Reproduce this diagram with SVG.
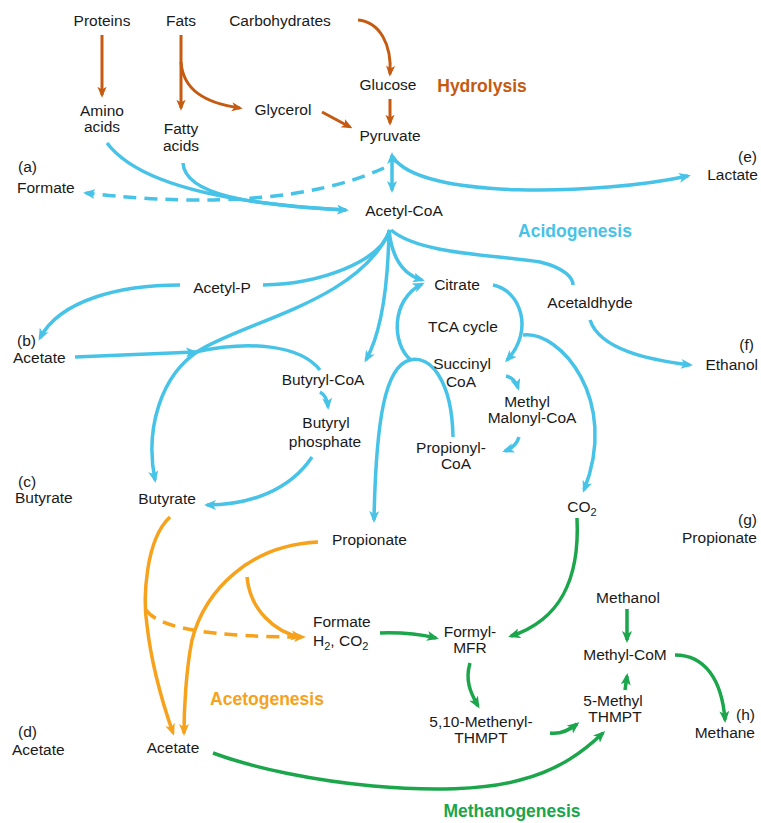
<svg xmlns="http://www.w3.org/2000/svg" width="761" height="823" viewBox="0 0 761 823">
<defs>
<style>
text{font-family:"Liberation Sans",Arial,sans-serif;font-size:15.5px;fill:#1a1a1a;text-anchor:middle}
.s{text-anchor:start}
.e{text-anchor:end}
.h{font-weight:bold;font-size:17.5px}
.c{fill:none;stroke-width:3.5;stroke-linecap:butt}
.br{stroke:#c55a11;stroke-width:3}
.cy{stroke:#47c3e8}
.or{stroke:#f6a21c}
.gr{stroke:#1ba64b}
.d{stroke-dasharray:13 8}
</style>
<marker id="mb" viewBox="0 0 12 10" refX="9" refY="5" markerWidth="11" markerHeight="10" markerUnits="userSpaceOnUse" orient="auto-start-reverse"><path d="M0,0 L12,5 L0,10 L3,5 z" fill="#c55a11"/></marker>
<marker id="mc" viewBox="0 0 12 10" refX="9" refY="5" markerWidth="12" markerHeight="10" markerUnits="userSpaceOnUse" orient="auto-start-reverse"><path d="M0,0 L12,5 L0,10 L3,5 z" fill="#47c3e8"/></marker>
<marker id="mo" viewBox="0 0 12 10" refX="9" refY="5" markerWidth="12" markerHeight="10" markerUnits="userSpaceOnUse" orient="auto-start-reverse"><path d="M0,0 L12,5 L0,10 L3,5 z" fill="#f6a21c"/></marker>
<marker id="mg" viewBox="0 0 12 10" refX="9" refY="5" markerWidth="12" markerHeight="10" markerUnits="userSpaceOnUse" orient="auto-start-reverse"><path d="M0,0 L12,5 L0,10 L3,5 z" fill="#1ba64b"/></marker>
</defs>
<rect width="761" height="823" fill="#ffffff"/>

<g id="connectors">
<g class="hydrolysis">
<path class="c br" d="M102,35 L102,95" marker-end="url(#mb)"/>
<path class="c br" d="M181,35 L181,108" marker-end="url(#mb)"/>
<path class="c br" d="M181,62 C183,90 205,103 240,108" marker-end="url(#mb)"/>
<path class="c br" d="M322,112 L350,127" marker-end="url(#mb)"/>
<path class="c br" d="M358,20 C380,22 392,45 390,74" marker-end="url(#mb)"/>
<path class="c br" d="M390,99 L390,123" marker-end="url(#mb)"/>
</g>
<g class="acidogenesis">
<path class="c cy d" d="M384,168 Q280,215 86,193" marker-end="url(#mc)"/>
<path class="c cy" d="M392,155 L392,190" marker-start="url(#mc)" marker-end="url(#mc)"/>
<path class="c cy" d="M393,157 C420,200 600,195 688,176" marker-end="url(#mc)"/>
<path class="c cy" d="M107,143 Q150,200 346,210" marker-end="url(#mc)"/>
<path class="c cy" d="M183,163 C185,195 250,205 346,210"/>
<path class="c cy" d="M390,230 C380,262 320,284 263,285"/>
<path class="c cy" d="M180,285 C120,285 60,300 40,338" marker-end="url(#mc)"/>
<path class="c cy" d="M390,230 C360,300 250,320 200,350 C160,375 145,430 155,480" marker-end="url(#mc)"/>
<path class="c cy" d="M389,230 C388,290 380,335 366,360" marker-end="url(#mc)"/>
<path class="c cy" d="M389,230 C392,260 405,275 422,280" marker-end="url(#mc)"/>
<path class="c cy" d="M391,230 C420,255 500,255 540,262 C565,268 573,278 573,285"/>
<path class="c cy" d="M75,357 L195,352" marker-end="url(#mc)"/>
<path class="c cy" d="M195,352 C250,340 300,345 320,370"/>
<path class="c cy" d="M493,285 C520,290 535,330 507,360" marker-end="url(#mc)"/>
<path class="c cy" d="M411,360 C392,345 390,300 422,284" marker-end="url(#mc)"/>
<path class="c cy" d="M523,335 C560,330 620,400 584,490" marker-end="url(#mc)"/>
<path class="c cy" d="M453,437 C452,380 430,355 410,360 C385,366 376,420 374,520" marker-end="url(#mc)"/>
<path class="c cy" d="M506,376 Q515,378 518,388" marker-end="url(#mc)"/>
<path class="c cy" d="M519,437 Q516,447 505,451" marker-end="url(#mc)"/>
<path class="c cy" d="M320,392 Q327,396 328,407" marker-end="url(#mc)"/>
<path class="c cy" d="M312,457 C290,490 250,505 207,505" marker-end="url(#mc)"/>
<path class="c cy" d="M590,320 C600,350 650,360 690,365" marker-end="url(#mc)"/>
</g>
<g class="acetogenesis">
<path class="c or" d="M170,517 C145,540 143,600 147,625 C152,670 165,710 173,733" marker-end="url(#mo)"/>
<path class="c or d" d="M146,610 C160,630 220,637 303,637" marker-end="url(#mo)"/>
<path class="c or" d="M318,542 C250,545 205,590 192,640 C186,670 184,710 184,733" marker-end="url(#mo)"/>
<path class="c or" d="M247,577 C250,610 275,632 300,637" marker-end="url(#mo)"/>
</g>
<g class="methanogenesis">
<path class="c gr" d="M213,753 C300,785 450,800 520,780 C560,770 585,750 603,733" marker-end="url(#mg)"/>
<path class="c gr" d="M577,518 C580,580 560,620 511,636" marker-end="url(#mg)"/>
<path class="c gr" d="M380,633 Q410,632 436,638" marker-end="url(#mg)"/>
<path class="c gr" d="M470,663 C465,680 470,692 478,706" marker-end="url(#mg)"/>
<path class="c gr" d="M550,733 Q563,735 577,724" marker-end="url(#mg)"/>
<path class="c gr" d="M625,690 L627,676" marker-end="url(#mg)"/>
<path class="c gr" d="M627,609 L627,640" marker-end="url(#mg)"/>
<path class="c gr" d="M675,655 C705,655 722,680 725,720" marker-end="url(#mg)"/>
</g>
</g>

<g id="proteins"><text x="102" y="26">Proteins</text></g>
<g id="fats"><text x="181" y="26">Fats</text></g>
<g id="carbohydrates"><text x="280" y="26">Carbohydrates</text></g>
<g id="amino-acids"><text x="102" y="116">Amino</text><text x="102" y="132">acids</text></g>
<g id="fatty-acids"><text x="181" y="134">Fatty</text><text x="181" y="151">acids</text></g>
<g id="glycerol"><text x="283" y="115">Glycerol</text></g>
<g id="glucose"><text x="388" y="90">Glucose</text></g>
<g id="pyruvate"><text x="390" y="141">Pyruvate</text></g>
<g id="label-hydrolysis"><text class="h" x="482" y="92" style="fill:#c55a11">Hydrolysis</text></g>
<g id="formate-a"><text class="s" x="18" y="172">(a)</text><text class="s" x="17" y="193">Formate</text></g>
<g id="lactate-e"><text class="e" x="757" y="162">(e)</text><text class="e" x="758" y="180">Lactate</text></g>
<g id="acetyl-coa"><text x="404" y="216">Acetyl-CoA</text></g>
<g id="label-acidogenesis"><text class="h" x="575" y="237" style="fill:#47c3e8">Acidogenesis</text></g>
<g id="acetyl-p"><text x="222" y="293">Acetyl-P</text></g>
<g id="acetate-b"><text class="s" x="17" y="346">(b)</text><text class="s" x="13" y="363">Acetate</text></g>
<g id="citrate"><text x="457" y="290">Citrate</text></g>
<g id="acetaldhyde"><text x="590" y="308">Acetaldhyde</text></g>
<g id="tca-cycle"><text x="463" y="332">TCA cycle</text></g>
<g id="ethanol-f"><text class="e" x="754" y="350">(f)</text><text class="e" x="758" y="370">Ethanol</text></g>
<g id="butyryl-coa"><text x="323" y="385">Butyryl-CoA</text></g>
<g id="succinyl-coa"><text x="462" y="369">Succinyl</text><text x="461" y="387">CoA</text></g>
<g id="methyl-malonyl-coa"><text x="527" y="407">Methyl</text><text x="532" y="423">Malonyl-CoA</text></g>
<g id="butyryl-phosphate"><text x="326" y="428">Butyryl</text><text x="325" y="447">phosphate</text></g>
<g id="propionyl-coa"><text x="451" y="453">Propionyl-</text><text x="456" y="469">CoA</text></g>
<g id="butyrate-c"><text class="s" x="18" y="487">(c)</text><text class="s" x="15" y="503">Butyrate</text></g>
<g id="butyrate"><text x="167" y="504">Butyrate</text></g>
<g id="co2"><text x="582" y="512">CO<tspan dy="4" font-size="11">2</tspan></text></g>
<g id="propionate-g"><text class="e" x="757" y="525">(g)</text><text class="e" x="757" y="543">Propionate</text></g>
<g id="propionate"><text class="s" x="332" y="545">Propionate</text></g>
<g id="methanol"><text x="628" y="603">Methanol</text></g>
<g id="formate-h2-co2"><text class="s" x="313" y="627">Formate</text><text class="s" x="313" y="646">H<tspan dy="4" font-size="11">2</tspan><tspan dy="-4">, CO</tspan><tspan dy="4" font-size="11">2</tspan></text></g>
<g id="formyl-mfr"><text x="470" y="637">Formyl-</text><text x="470" y="653">MFR</text></g>
<g id="methyl-com"><text x="625" y="660">Methyl-CoM</text></g>
<g id="label-acetogenesis"><text class="h" x="267" y="705" style="fill:#f6a21c">Acetogenesis</text></g>
<g id="five-methyl-thmpt"><text x="613" y="706">5-Methyl</text><text x="615" y="722">THMPT</text></g>
<g id="methenyl-thmpt"><text x="481" y="727">5,10-Methenyl-</text><text x="481" y="743">THMPT</text></g>
<g id="methane-h"><text class="e" x="755" y="720">(h)</text><text class="e" x="755" y="738">Methane</text></g>
<g id="acetate-d"><text class="s" x="18" y="737">(d)</text><text class="s" x="12" y="755">Acetate</text></g>
<g id="acetate"><text x="173" y="753">Acetate</text></g>
<g id="label-methanogenesis"><text class="h" x="512" y="817" style="fill:#1ba64b">Methanogenesis</text></g>
</svg>
